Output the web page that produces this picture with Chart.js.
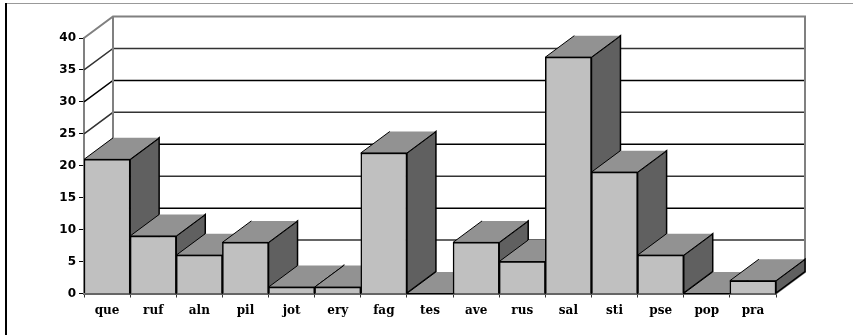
<!DOCTYPE html>
<html>
<head>
<meta charset="utf-8">
<script src="https://cdn.jsdelivr.net/npm/chart.js@4"></script>
<style>
  html, body { margin: 0; padding: 0; background: #fff; }
  #wrap { position: absolute; left: 0; top: 0; width: 853px; height: 335px; }
  #frameTop { position: absolute; left: 5px; top: 3px; right: 0; height: 1px; background: #999; }
  #frameLeft { position: absolute; left: 5px; top: 3px; bottom: 0; width: 2px; background: #000; }
</style>
</head>
<body>
<div id="wrap">
  <canvas id="myChart" width="853" height="335"></canvas>
  <div id="frameTop"></div>
  <div id="frameLeft"></div>
</div>
<script>
let categories = ['que', 'ruf', 'aln', 'pil', 'jot', 'ery', 'fag', 'tes', 'ave', 'rus', 'sal', 'sti', 'pse', 'pop', 'pra'];
let values = [21, 9, 6, 8, 1, 1, 22, 0, 8, 5, 37, 19, 6, 0, 2];

let depthX = 29;
let depthY = 21.5;

function poly(ctx, pts, fill, stroke, width) {
	ctx.beginPath();
	pts.forEach((p, i) => i ? ctx.lineTo(p[0], p[1]) : ctx.moveTo(p[0], p[1]));
	if (fill) {
		ctx.closePath();
		ctx.fillStyle = fill;
		ctx.fill();
	}
	if (stroke) {
		ctx.strokeStyle = stroke;
		ctx.lineWidth = width;
		ctx.stroke();
	}
}

// the library has no 3d bars, so walls, tops and sides are added from its own scales
let box3d = {
	id: 'box3d',
	beforeDatasetsDraw(chart) {
		let ctx = chart.ctx;
		let y = chart.scales.y;
		let area = chart.chartArea;
		let l = area.left, r = area.right;
		ctx.save();

		y.ticks.forEach((t) => {
			let py = y.getPixelForValue(t.value);
			if (t.value === 0 || t.value === 40) return;
			poly(ctx, [[l, py], [l + depthX, py - depthY], [r + depthX, py - depthY]], null, t.value % 10 ? '#333' : '#000', 1.5);
		});

		let floor = y.getPixelForValue(0);
		let top = y.getPixelForValue(40);
		poly(ctx, [[l, top], [l + depthX, top - depthY], [r + depthX, top - depthY], [r + depthX, floor - depthY], [r, floor]], null, '#808080', 2);
		poly(ctx, [[l + depthX, top - depthY], [l + depthX, floor - depthY]], null, '#808080', 2);

		chart.getDatasetMeta(0).data.forEach((bar) => {
			let x0 = bar.x - bar.width / 2;
			let x1 = bar.x + bar.width / 2;
			let yt = bar.y;
			let yb = bar.base;
			poly(ctx, [[x1, yt], [x1 + depthX, yt - depthY], [x1 + depthX, yb - depthY], [x1, yb]], '#606060', '#000', 1.5);
			poly(ctx, [[x0, yt], [x0 + depthX, yt - depthY], [x1 + depthX, yt - depthY], [x1, yt]], '#929292', null, 0);
			poly(ctx, [[x0, yt], [x0 + depthX, yt - depthY]], null, '#000', 1);
			poly(ctx, [[x0, yt], [x1, yt], [x1 + depthX, yt - depthY]], null, '#000', 1);
		});

		ctx.restore();
	}
};

let ctx = document.getElementById('myChart').getContext('2d');

let myChart = new Chart(ctx, {
	type: 'bar',
	data: {
		labels: categories,
		datasets: [{
			data: values,
			backgroundColor: '#c0c0c0',
			borderColor: '#000',
			borderWidth: 1.5,
			barPercentage: 1,
			categoryPercentage: 1
		}]
	},
	plugins: [box3d],
	options: {
		responsive: false,
		animation: false,
		layout: {
			padding: { left: 0, right: 77, top: 38, bottom: 0 }
		},
		plugins: {
			legend: { display: false },
			tooltip: { enabled: false }
		},
		scales: {
			x: {
				afterFit(scale) { scale.height = 41.5; },
				border: { color: '#666', width: 2 },
				grid: { drawOnChartArea: false, drawTicks: true, tickLength: 4, color: '#333', offset: true },
				ticks: {
					color: '#000',
					maxRotation: 0,
					padding: 6,
					font: { family: '"DejaVu Serif"', size: 12, weight: 'bold' }
				}
			},
			y: {
				min: 0,
				max: 40,
				afterFit(scale) { scale.width = 84; },
				border: { color: '#808080', width: 2 },
				grid: { drawOnChartArea: false, drawTicks: true, tickLength: 5, color: '#000' },
				ticks: {
					stepSize: 5,
					color: '#000',
					padding: 3,
					font: { family: '"DejaVu Sans"', size: 12, weight: 'bold' }
				}
			}
		}
	}
});
</script>
</body>
</html>
